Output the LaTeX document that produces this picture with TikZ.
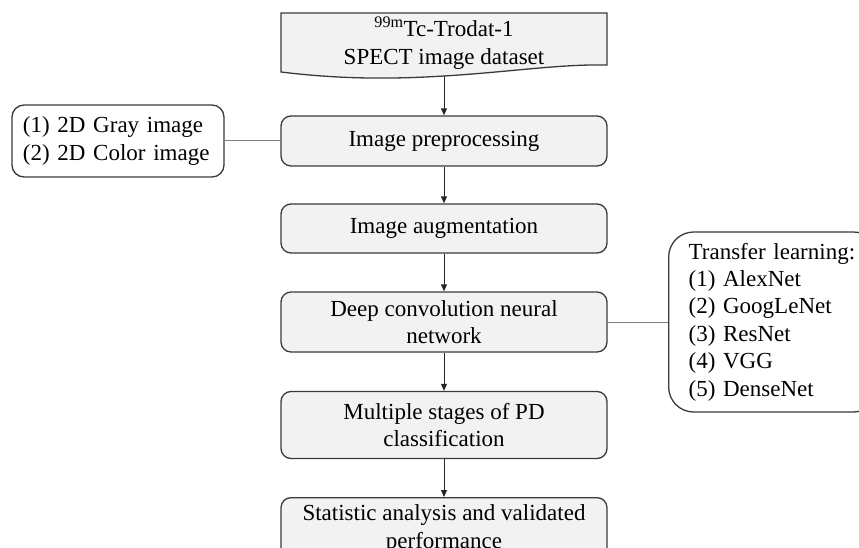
\documentclass[tikz,border=0pt]{standalone}
\usepackage{fontspec}
\setmainfont{Liberation Serif}
\usetikzlibrary{arrows.meta}
\definecolor{boxfill}{HTML}{F2F2F2}
\definecolor{boxline}{HTML}{3A3A3A}
\definecolor{sideline}{HTML}{808080}
\begin{document}
\begin{tikzpicture}[x=1pt,y=-1pt,
  every node/.style={font=\fontsize{23}{27.4}\selectfont},
  mainbox/.style={draw=boxline, fill=boxfill, line width=1.3pt, rounded corners=10pt, minimum width=326pt, align=center, inner sep=0pt},
  sidebox/.style={draw=boxline, fill=white, line width=1.3pt, align=left, inner ysep=0pt},
  arr/.style={-{Triangle[length=7pt,width=6pt]}, line width=0.9pt, draw=black!85, fill=black!85},
  side/.style={draw=sideline, line width=1pt}]
\useasboundingbox (0,0) rectangle (859,548);
\clip (0,0) rectangle (859,548);
% document shape
\draw[draw=boxline, fill=boxfill, line width=1.3pt] (281,13) -- (607,13) -- (607,65) .. controls (560,64) and (510,72) .. (444,76) .. controls (380,80) and (330,78) .. (281,72) -- cycle;
\node[align=center, inner sep=0pt, minimum width=326pt, minimum height=66pt] (doc) at (444,43) {\textsuperscript{99m}Tc-Trodat-1\\SPECT image dataset};
\node[mainbox, minimum height=50pt] (pre) at (444,141) {Image preprocessing};
\node[mainbox, minimum height=49pt] (aug) at (444,228.5) {Image augmentation};
\node[mainbox, minimum height=60pt] (dcnn) at (444,322) {Deep convolution neural\\network};
\node[mainbox, minimum height=67pt] (mult) at (444,425) {Multiple stages of PD\\classification};
\node[mainbox, anchor=north, inner ysep=7.3pt] (stat) at (444,497) {Statistic analysis and validated\\performance};
\node[sidebox, rounded corners=12pt, text width=190pt, inner xsep=11pt, minimum height=72pt] (gray) at (118,141) {(1) 2D Gray image\\(2) 2D Color image};
\node[sidebox, rounded corners=25pt, text width=170pt, inner xsep=20pt, minimum height=180pt, anchor=west] (tl) at (668,322) {Transfer learning:\\(1) AlexNet\\(2) GoogLeNet\\(3) ResNet\\(4) VGG\\(5) DenseNet};
% connectors
\draw[arr] (doc.south) -- (pre.north);
\draw[arr] (pre.south) -- (aug.north);
\draw[arr] (aug.south) -- (dcnn.north);
\draw[arr] (dcnn.south) -- (mult.north);
\draw[arr] (mult.south) -- (stat.north);
\draw[side] (gray.east) -- (pre.west);
\draw[side] (dcnn.east) -- (tl.west);
\end{tikzpicture}
\end{document}
